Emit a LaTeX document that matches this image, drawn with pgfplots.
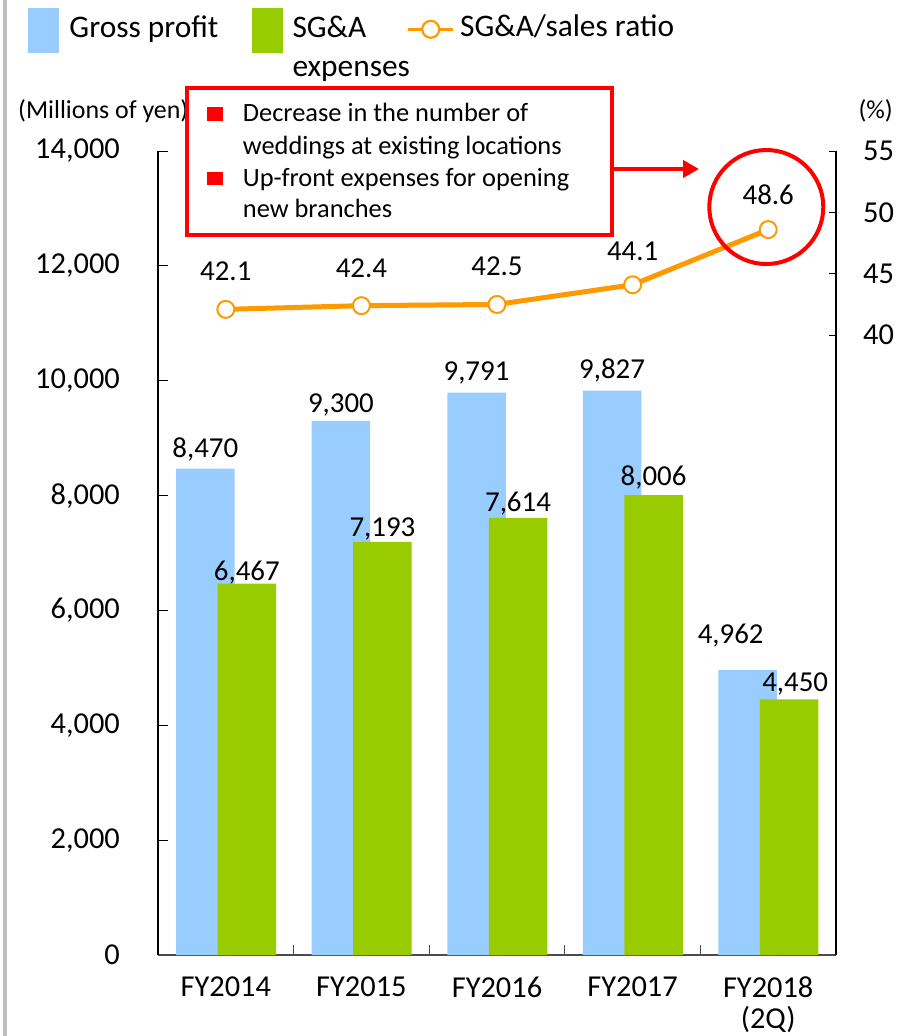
\documentclass[border=0pt]{standalone}
\usepackage{fontspec}
\setmainfont{Carlito}
\usepackage{pgfplots}
\usepackage{pgfplotstable}
\pgfplotsset{compat=1.18}
\usetikzlibrary{arrows.meta}

\definecolor{gpblue}{HTML}{99CCFF}
\definecolor{sgagreen}{HTML}{99CC00}
\definecolor{lineorange}{HTML}{FF9900}
\definecolor{boxred}{HTML}{FF0000}

% gross profit, label text, label offsets (bp)
\pgfplotstableread{
x y lab dx dy
0 8470 8,470 0 11
1 9300 9,300 0 8
2 9791 9,791 0 12
3 9827 9,827 0 12
4 4962 4,962 -17 27
}\grossdata

% SG&A expenses
\pgfplotstableread{
x y lab dx dy
0 6467 6,467 0 3
1 7193 7,193 0 5
2 7614 7,614 0 6
3 8006 8,006 0 10
4 4450 4,450 6 8
}\sgadata

% SG&A/sales ratio (%)
\pgfplotstableread{
x y lab dx dy
0 42.1 42.1 0 29
1 42.4 42.4 0 28
2 42.5 42.5 0 29
3 44.1 44.1 0 24
4 48.6 48.6 0 25
}\ratiodata

\newcommand{\ticksize}{\fontsize{30.5}{31}\selectfont}
\newcommand{\labsize}{\fontsize{29}{30}\selectfont}

\begin{document}
\begin{tikzpicture}[x=1bp,y=1bp]
\useasboundingbox (0,0) rectangle (898,-1036);
\fill[black!25] (3.3,0) rectangle (6.5,-1036);

% bars, left axis
\begin{axis}[
    at={(158bp,-955bp)}, anchor=south west,
    width=678bp, height=804bp, scale only axis,
    xmin=-0.5, xmax=4.5,
    ymin=0, ymax=14000,
    axis x line*=bottom, axis y line*=left,
    axis line style={-, line width=1.2bp},
    x axis line style={black!70},
    tick align=inside,
    tick style={black, line width=1bp},
    ytick={0,2000,...,14000},
    scaled y ticks=false,
    major tick length=10bp,
    xtick={0.5,1.5,2.5,3.5},
    xticklabels={,,,},
    x tick style={black!70},
    extra x ticks={0,1,2,3,4},
    extra x tick labels={FY2014,FY2015,FY2016,FY2017,FY2018\\(2Q)},
    extra x tick style={major tick length=0pt},
    xticklabel style={font=\ticksize, align=center, anchor=north, inner sep=0pt, yshift=-22bp},
    yticklabel style={font=\ticksize, anchor=east, inner sep=0pt, xshift=-38bp},
    /pgf/number format/.cd, 1000 sep={,}, assume math mode=true,
    /pgfplots/.cd,
    clip=false,
]
\addplot[ybar, fill=gpblue, draw=none, bar width=58.5bp, bar shift=-20.5bp,
    nodes near coords, point meta=explicit symbolic,
    visualization depends on={\thisrow{dx} \as \dx},
    visualization depends on={\thisrow{dy} \as \dy},
    nodes near coords style={font=\labsize, anchor=base, inner sep=0pt,
        xshift={(\dx-20.5)*1bp}, yshift={\dy*1bp}}]
    table[x=x, y=y, meta=lab] {\grossdata};
\addplot[ybar, fill=sgagreen, draw=none, bar width=58.5bp, bar shift=21bp,
    nodes near coords, point meta=explicit symbolic,
    visualization depends on={\thisrow{dx} \as \dx},
    visualization depends on={\thisrow{dy} \as \dy},
    nodes near coords style={font=\labsize, anchor=base, inner sep=0pt,
        xshift={(\dx+21)*1bp}, yshift={\dy*1bp}}]
    table[x=x, y=y, meta=lab] {\sgadata};
\end{axis}

% ratio line, right axis
\begin{axis}[
    at={(158bp,-955bp)}, anchor=south west,
    width=678bp, height=804bp, scale only axis,
    xmin=-0.5, xmax=4.5,
    ymin=-10.5, ymax=55,
    axis x line=none, axis y line*=right,
    axis line style={-, line width=1.2bp},
    tick align=inside,
    tick style={black, line width=1bp},
    major tick length=7bp,
    ytick={40,45,50,55},
    yticklabel style={font=\ticksize, anchor=west, inner sep=0pt, xshift=27bp},
    /pgf/number format/assume math mode=true,
    clip=false,
]
\addplot[color=lineorange, line width=5bp, mark=*, mark size=8.5bp,
    mark options={fill=white, draw=lineorange, line width=2bp},
    nodes near coords, point meta=explicit symbolic,
    visualization depends on={\thisrow{dy} \as \dy},
    nodes near coords style={font=\labsize, text=black, anchor=base, inner sep=0pt,
        yshift={\dy*1bp}}]
    table[x=x, y=y, meta=lab] {\ratiodata};
\end{axis}

% axis unit labels
\node[anchor=base west, inner sep=0pt, font=\fontsize{26}{30}\selectfont] at (18,-118) {(Millions of yen)};
\node[anchor=base east, inner sep=0pt, font=\fontsize{26}{30}\selectfont] at (893,-118) {(\%)};

% legend
\fill[gpblue] (27.7,-8) rectangle (59,-52.7);
\node[anchor=base west, inner sep=0pt, font=\fontsize{31.5}{38}\selectfont] at (69.3,-37.7) {Gross profit};
\fill[sgagreen] (251.7,-8) rectangle (283,-52.7);
\node[anchor=base west, inner sep=0pt, font=\fontsize{31.5}{38}\selectfont] at (292.3,-37.7) {SG\&A};
\node[anchor=base west, inner sep=0pt, font=\fontsize{31.5}{38}\selectfont] at (292.3,-76) {expenses};
\draw[lineorange, line width=3bp] (408,-29.3) -- (453,-29.3);
\draw[lineorange, line width=2.2bp, fill=white] (430.7,-29.3) circle[radius=8.5];
\node[anchor=base west, inner sep=0pt, font=\fontsize{31.5}{38}\selectfont] at (460,-36.7) {SG\&A/sales ratio};

% callout box
\draw[boxred, line width=4bp, fill=white] (187,-88) rectangle (612,-234.5);
\fill[boxred] (207.3,-107.3) rectangle (223.3,-121);
\fill[boxred] (207.3,-171.7) rectangle (223.3,-185.4);
\begin{scope}[every node/.style={anchor=base west, inner sep=0pt, font=\fontsize{26.5}{32}\selectfont}]
\node at (242.7,-121.7) {Decrease in the number of};
\node at (242.7,-154) {weddings at existing locations};
\node at (242.7,-186) {Up-front expenses for opening};
\node at (242.7,-217.7) {new branches};
\end{scope}
\draw[boxred, line width=4bp, -{Triangle[length=16bp, width=17bp]}] (612,-169) -- (699,-169);
\draw[boxred, line width=4bp] (766.3,-207) circle[radius=57];
\end{tikzpicture}
\end{document}
